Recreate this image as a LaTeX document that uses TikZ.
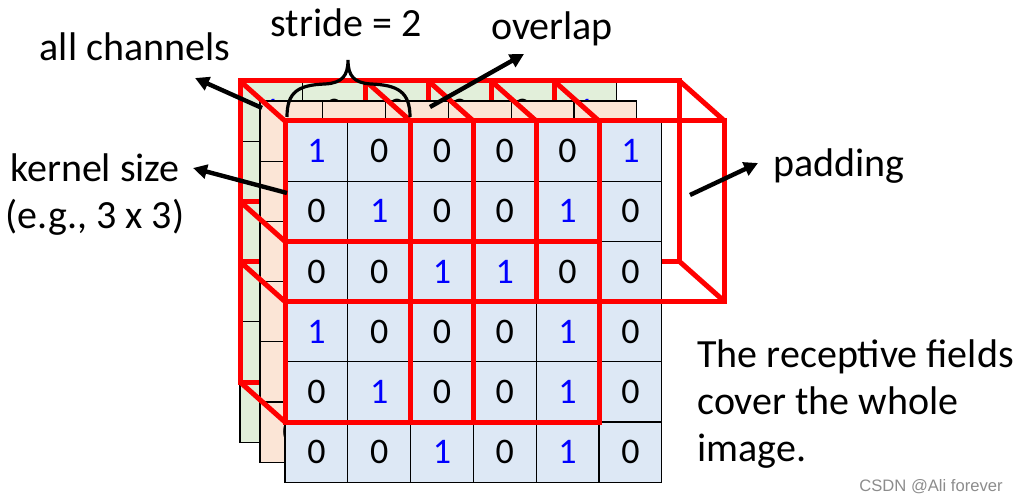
\documentclass[tikz,border=0pt]{standalone}
\usepackage{fontspec}
\setmainfont{Carlito}
\newfontfamily\markfont{Liberation Sans}
\usetikzlibrary{arrows.meta,positioning,backgrounds}
\definecolor{frontblue}{RGB}{221,232,245}
\definecolor{midpeach}{RGB}{251,229,214}
\definecolor{backgreen}{RGB}{226,239,218}
\definecolor{fieldred}{RGB}{255,0,0}
\newcommand{\cellval}[1]{\ifnum#1=1 \textcolor{blue}{1}\else 0\fi}
% one 6x6 input channel, shifted by (#1,#2), filled #3, nodes named #4-row-col
\newcommand{\channel}[4]{%
  \foreach \row [count=\r from 0] in {{1,0,0,0,0,1},{0,1,0,0,1,0},{0,0,1,1,0,0},{1,0,0,0,1,0},{0,1,0,0,1,0},{0,0,1,0,1,0}}
    \foreach \v [count=\c from 0] in \row
      \node[cell,fill=#3] (#4-\r-\c) at ({316.4+62.8*\c+#1},{151.1+60.2*\r+#2}) {\cellval{\v}};
}

\begin{document}
\begin{tikzpicture}[x=0.5pt,y=-0.5pt,
    >={Triangle[length=7pt,width=7pt]},
    cell/.style={draw=black,line width=0.6pt,minimum width=31.4pt,minimum height=30.1pt,
      inner sep=0pt,outer sep=0pt,font=\fontsize{18}{21}\selectfont},
    field/.style={draw=fieldred,line width=2.5pt},
    pointer/.style={->,line width=2.2pt},
    lbl/.style={font=\fontsize{20}{23.5}\selectfont,inner sep=0pt}]
    \useasboundingbox (0,0) rectangle (1020,501);

    % front channel
    \channel{0}{0}{frontblue}{f}

    \begin{scope}[on background layer]
      \channel{-45}{-40}{backgreen}{g}
      % back faces of the receptive fields
      \coordinate (g-pad-ne) at ([xshift=31.4pt]g-0-5.north east);
      \coordinate (g-pad-se) at ([xshift=31.4pt]g-2-5.south east);
      \draw[field] (g-0-0.north west) rectangle (g-2-2.south east);
      \draw[field] (g-0-2.north west) rectangle (g-2-4.south east);
      \draw[field] (g-0-4.north west) rectangle (g-pad-se);
      \draw[field] (g-2-0.north west) rectangle (g-4-2.south east);
      \draw[field] (g-2-2.north west) rectangle (g-4-4.south east);

      \channel{-25}{-20}{midpeach}{p}

      % depth edges
      \coordinate (f-pad-ne) at ([xshift=31.4pt]f-0-5.north east);
      \coordinate (f-pad-se) at ([xshift=31.4pt]f-2-5.south east);
      \foreach \a/\b/\c/\d in {0-0/0-2/2-0/2-2,0-2/0-4/2-2/2-4,2-0/2-2/4-0/4-2,2-2/2-4/4-2/4-4}
        \draw[field]
        (g-\a.north west) -- (f-\a.north west)
        (g-\b.north east) -- (f-\b.north east)
        (g-\c.south west) -- (f-\c.south west)
        (g-\d.south east) -- (f-\d.south east);
      \draw[field]
      (g-0-4.north west) -- (f-0-4.north west)
      (g-pad-ne) -- (f-pad-ne)
      (g-2-4.south west) -- (f-2-4.south west)
      (g-pad-se) -- (f-pad-se);
    \end{scope}

    % front faces of the receptive fields
    \draw[field] (f-0-0.north west) rectangle (f-2-2.south east);
    \draw[field] (f-0-2.north west) rectangle (f-2-4.south east);
    \draw[field] (f-0-4.north west) rectangle (f-pad-se);
    \draw[field] (f-2-0.north west) rectangle (f-4-2.south east);
    \draw[field] (f-2-2.north west) rectangle (f-4-4.south east);

    % stride brace
    \draw[line width=1.6pt]
    (287,117) .. controls (287,92) and (298,85) .. (325,84)
    .. controls (342,83) and (348,76) .. (348,60)
    .. controls (348,76) and (354,83) .. (371,84)
    .. controls (398,85) and (410,92) .. (410,117);

    % labels
    \node[lbl,anchor=base] (stride) at (346,37) {stride = 2};
    \node[lbl,anchor=base] (overlap) at (552,40) {overlap};
    \node[lbl,anchor=base] (achan) at (135,61) {all channels};
    \node[lbl,anchor=base] (kern) at (95,182) {kernel size};
    \node[lbl,below=23.5pt of kern.base,anchor=base] (kernex) {(e.g., 3 x 3)};
    \node[lbl,anchor=base] (pad) at (839,177) {padding};
    \node[lbl,anchor=base west] (cover1) at (697,367) {The receptive fields};
    \node[lbl,below=23.5pt of cover1.base west,anchor=base west] (cover2) {cover the whole};
    \node[lbl,below=23.5pt of cover2.base west,anchor=base west] (cover3) {image.};
    \node[font=\markfont\fontsize{8.3}{10}\selectfont,text=black!45,inner sep=0pt,anchor=base east]
      (mark) at (1003,491) {CSDN @Ali forever};

    % pointers
    \coordinate (achan-foot) at (262,108);
    \coordinate (achan-tip) at (195,78);
    \coordinate (kern-foot) at (287,193);
    \coordinate (kern-tip) at (193,168);
    \coordinate (overlap-foot) at (430,107);
    \coordinate (overlap-tip) at (524,54);
    \coordinate (pad-foot) at (690,195);
    \coordinate (pad-tip) at (758,163);
    \draw[pointer] (achan-foot) -- (achan-tip);
    \draw[pointer] (kern-foot) -- (kern-tip);
    \draw[pointer] (overlap-foot) -- (overlap-tip);
    \draw[pointer] (pad-foot) -- (pad-tip);
  \end{tikzpicture}
\end{document}
